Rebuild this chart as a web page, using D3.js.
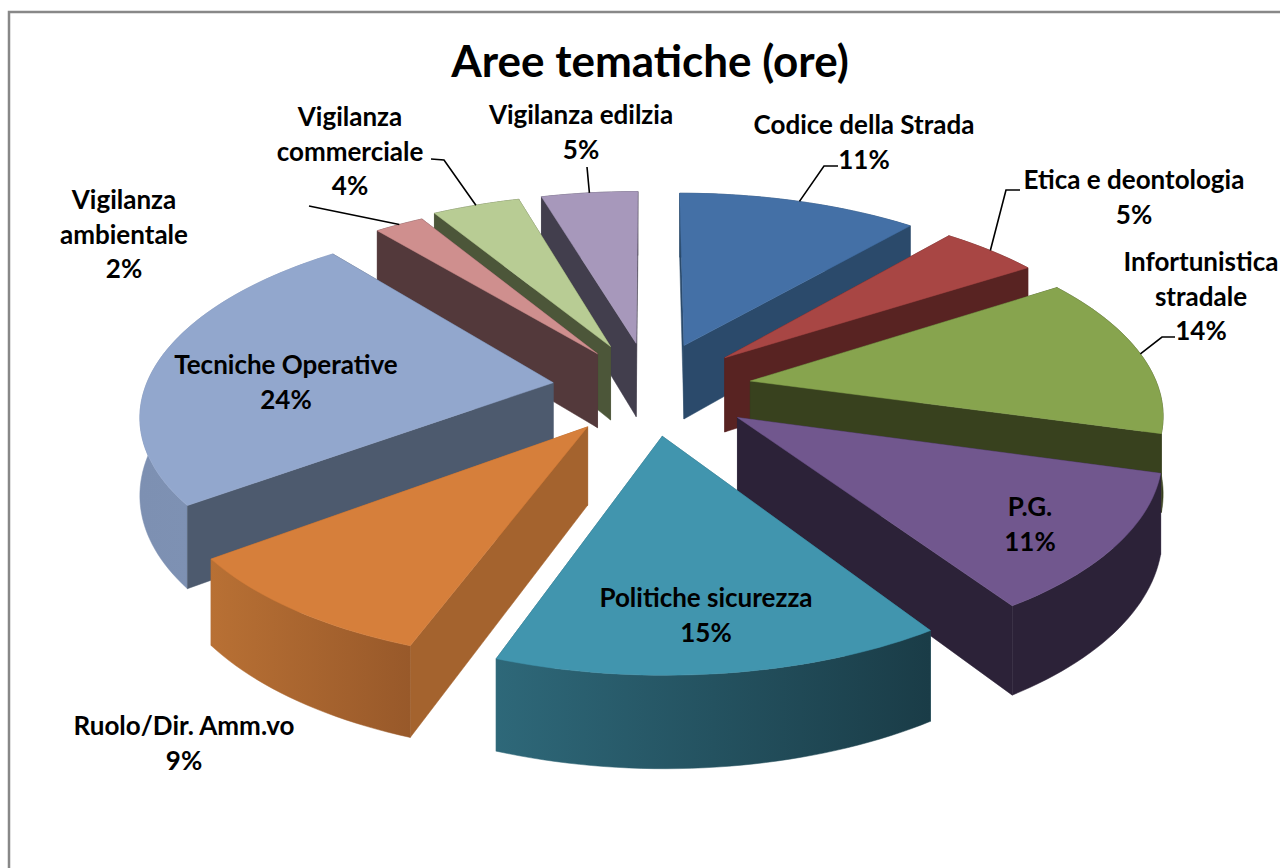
<!DOCTYPE html>
<html>
<head>
<meta charset="utf-8">
<script src="https://cdnjs.cloudflare.com/ajax/libs/d3/7.8.5/d3.min.js"></script>
<style>
  html, body { margin: 0; padding: 0; background: #fff; overflow: hidden; }
  svg { display: block; }
  text { font-family: Lato, "Open Sans", sans-serif; font-weight: 700; fill: #000; }
</style>
</head>
<body>
<div id="chart"></div>
<script>
// data, clockwise from the top (shares, labels as printed)
const categories = ["Codice della Strada", "Etica e deontologia", "Infortunistica stradale", "P.G.",
    "Politiche sicurezza", "Ruolo/Dir. Amm.vo", "Tecniche Operative", "Vigilanza ambientale",
    "Vigilanza commerciale", "Vigilanza edilzia"];
const shares = [11.2, 4.6, 13.6, 11.4, 14.7, 9.2, 24.4, 2.3, 4.1, 4.5];
const percentLabels = ["11%", "5%", "14%", "11%", "15%", "9%", "24%", "2%", "4%", "5%"];
const title = "Aree tematiche (ore)";

const topColors = ["#4470a6", "#a84644", "#87a44e", "#71578e", "#4195ae", "#d67f3b", "#92a7cd", "#cf8f8e", "#b8cc94", "#a798bb"];
const sideColors = ["#2b4a6b", "#582322", "#38411e", "#2c2238", "#2b6475", "#a4632e", "#4d5a6e", "#53393b", "#4c5639", "#423e4d"];
const rimFrom = ["#2b4a6b", "#582322", "#38411e", "#2c2238", "#2e6879", "#b87034", "#7d90b2", "#53393b", "#4c5639", "#423e4d"];
const rimTo = ["#2b4a6b", "#582322", "#38411e", "#2c2238", "#1a3c47", "#98592a", "#8094b6", "#53393b", "#4c5639", "#423e4d"];

// how far each slice is pulled out, as a part of the radius
const explodes = [0.25, 0.25, 0.25, 0.26, 0.25, 0.25, 0.24, 0.23, 0.25, 0.25];

// label anchor: x, y of the first line centre, name broken in lines, leader elbow points if any
const labelLayout = [
    {x: 864, y: 125, name: ["Codice della Strada"], leader: [[838, 166], [824, 166]]},
    {x: 1134, y: 180, name: ["Etica e deontologia"], leader: [[1020, 190], [1006, 190]]},
    {x: 1201, y: 262, name: ["Infortunistica", "stradale"], leader: [[1175, 337], [1162, 337]]},
    {x: 1030, y: 507, name: ["P.G."]},
    {x: 706, y: 598, name: ["Politiche sicurezza"]},
    {x: 184, y: 726, name: ["Ruolo/Dir. Amm.vo"]},
    {x: 286, y: 365, name: ["Tecniche Operative"]},
    {x: 124, y: 200, name: ["Vigilanza", "ambientale"], leader: [[309, 206]]},
    {x: 350, y: 117, name: ["Vigilanza", "commerciale"], leader: [[431, 159], [444, 160]]},
    {x: 581, y: 115, name: ["Vigilanza edilzia"], leader: [[587, 167]]}
];

const width = 1280, height = 868;
const cx = 650, cy = 388;      // pie centre on screen
const radiusX = 408, radiusY = 187, depth = 76;
const perspective = 0.15;

const svg = d3.select("#chart").append("svg")
    .attr("width", width)
    .attr("height", height);
const defs = svg.append("defs");

// frame, open on the right and at the bottom like the cropped original
svg.append("path")
    .attr("d", d3.line()([[9, height], [9, 12], [width, 12]]))
    .attr("fill", "none")
    .attr("stroke", "#888")
    .attr("stroke-width", 2.5);

svg.append("text")
    .attr("x", cx)
    .attr("y", 62)
    .attr("dy", "0.35em")
    .attr("text-anchor", "middle")
    .attr("font-size", 44)
    .text(title);

const arcs = d3.pie().sort(null)(shares);

// ground plane (u, v) to screen, things nearer the viewer get bigger
function project(u, v, z) {
    const p = 1 / (1 - perspective * v);
    return [cx + radiusX * u * p, cy + (radiusY * v + depth * z) * p];
}

// point of a slice at polar (r, angle), moved out along the slice middle
function slicePoint(arc, r, angle, z) {
    const mid = (arc.startAngle + arc.endAngle) / 2;
    const e = explodes[arc.index];
    const u = e * Math.sin(mid) + r * Math.sin(angle);
    const v = -(e * Math.cos(mid) + r * Math.cos(angle));
    return project(u, v, z);
}

const line = d3.line();

function rimAngles(arc) {
    const n = Math.max(8, Math.round((arc.endAngle - arc.startAngle) * 40));
    return d3.range(n + 1).map(i => arc.startAngle + (arc.endAngle - arc.startAngle) * i / n);
}

// back slices first, nearer ones paint over them
const order = arcs.map((d, i) => i)
    .sort((a, b) => Math.cos((arcs[b].startAngle + arcs[b].endAngle) / 2) - Math.cos((arcs[a].startAngle + arcs[a].endAngle) / 2));

const slices = svg.selectAll("g.slice")
    .data(order)
    .join("g")
    .attr("class", "slice");

slices.each(function (i) {
    const arc = arcs[i];
    const g = d3.select(this);
    const rim = rimAngles(arc);
    const topRim = rim.map(a => slicePoint(arc, 1, a, 0));
    const lowRim = rim.map(a => slicePoint(arc, 1, a, 1));
    const apexTop = slicePoint(arc, 0, 0, 0);
    const apexLow = slicePoint(arc, 0, 0, 1);

    const gradId = "rim" + i;
    const grad = defs.append("linearGradient")
        .attr("id", gradId)
        .attr("gradientUnits", "userSpaceOnUse")
        .attr("x1", d3.min(topRim, d => d[0]))
        .attr("x2", d3.max(topRim, d => d[0]))
        .attr("y1", 0)
        .attr("y2", 0);
    grad.append("stop").attr("offset", 0).attr("stop-color", rimFrom[i]);
    grad.append("stop").attr("offset", 1).attr("stop-color", rimTo[i]);

    const faces = [
        {pts: [apexTop, topRim[0], lowRim[0], apexLow], fill: sideColors[i]},
        {pts: [apexTop, topRim[topRim.length - 1], lowRim[lowRim.length - 1], apexLow], fill: sideColors[i]},
        {pts: topRim.concat(lowRim.slice().reverse()), fill: `url(#${gradId})`}
    ];
    // back faces first, the top covers whatever is left of them
    faces.sort((a, b) => d3.mean(a.pts, d => d[1]) - d3.mean(b.pts, d => d[1]));
    faces.forEach(f => {
        g.append("path")
            .attr("d", line(f.pts) + "Z")
            .attr("fill", f.fill)
            .attr("stroke", f.fill)
            .attr("stroke-width", 0.5);
    });

    g.append("path")
        .attr("d", line([apexTop].concat(topRim)) + "Z")
        .attr("fill", topColors[i])
        .attr("stroke", topColors[i])
        .attr("stroke-width", 0.5);
});

// leader lines run from the label elbow to the middle of the slice rim
labelLayout.forEach((lab, i) => {
    if (!lab.leader) return;
    const arc = arcs[i];
    const end = slicePoint(arc, 1, (arc.startAngle + arc.endAngle) / 2, 0);
    svg.append("path")
        .attr("d", line(lab.leader.concat([end])))
        .attr("fill", "none")
        .attr("stroke", "#000")
        .attr("stroke-width", 1.6);
});

const labels = svg.selectAll("g.label")
    .data(labelLayout)
    .join("g")
    .attr("class", "label");

labels.selectAll("text")
    .data((d, i) => d.name.concat([percentLabels[i]]).map((t, k) => ({t: t, x: d.x, y: d.y + k * 34.5})))
    .join("text")
    .attr("x", d => d.x)
    .attr("y", d => d.y)
    .attr("dy", "0.35em")
    .attr("text-anchor", "middle")
    .attr("font-size", 26)
    .text(d => d.t);
</script>
</body>
</html>
